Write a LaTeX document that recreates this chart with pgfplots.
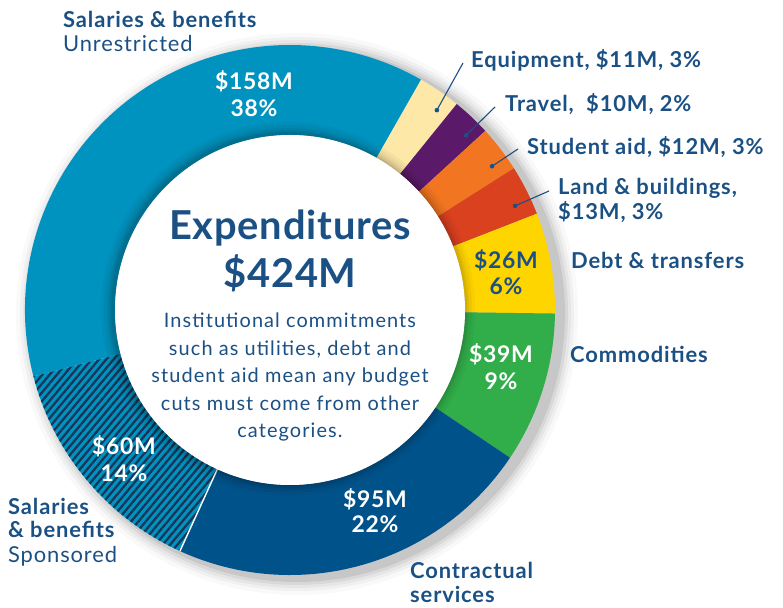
\documentclass[border=0pt]{standalone}
\usepackage{pgfplots}
\pgfplotsset{compat=1.18}
\usepackage{pgfplotstable}
\usepackage{fontspec}
\setmainfont{Lato}
\usetikzlibrary{patterns.meta}

\definecolor{txt}{HTML}{1B5084}
\definecolor{cTeal}{HTML}{0093BF}
\definecolor{cPale}{HTML}{FDE8A8}
\definecolor{cPurple}{HTML}{5B1A69}
\definecolor{cOrange}{HTML}{F27522}
\definecolor{cRed}{HTML}{D9411F}
\definecolor{cYellow}{HTML}{FFD500}
\definecolor{cGreen}{HTML}{31AD4A}
\definecolor{cNavy}{HTML}{00528A}
\definecolor{cStripe}{HTML}{14365A}

\tikzset{
  none/.style={},
  hatch/.style={postaction={pattern={Lines[angle=50,distance=5.6bp,line width=2.3bp]},pattern color=cStripe}},
}

% expenditures in $M, clockwise from the sponsored/unrestricted boundary
\pgfplotstableread{
name         value col     pat   lead
Unrestricted 158   cTeal   none  0
Equipment    11    cPale   none  1
Travel       10    cPurple none  1
Student      12    cOrange none  1
Land         13    cRed    none  1
Debt         26    cYellow none  0
Commodities  39    cGreen  none  0
Contractual  95    cNavy   none  0
Sponsored    60    cTeal   hatch 0
}\expdata

% leader line ends (label side), pixel coords
\pgfplotstableread{
x   y
463 63
495 107
518 149
549 191
}\leaders

\newcommand\lab{\fontsize{22}{26}\selectfont\bfseries\addfontfeature{LetterSpace=4}}
\newcommand\labr{\fontsize{22}{26}\selectfont\addfontfeature{LetterSpace=4}}
\newcommand\val{\fontsize{23}{27}\selectfont\bfseries\addfontfeature{LetterSpace=3}}
\newcommand\ttl{\fontsize{40}{46}\selectfont\bfseries\addfontfeature{LetterSpace=2}}
\newcommand\body{\fontsize{20}{24}\selectfont\addfontfeature{LetterSpace=5.5}}

\begin{document}
\begin{tikzpicture}
\begin{axis}[width=783bp,height=608bp,scale only axis,hide axis,
  xmin=0,xmax=783,ymin=0,ymax=608,clip=false]
\coordinate (bl) at (rel axis cs:0,0);
\coordinate (tr) at (rel axis cs:1,1);

% outer soft shadow
\foreach \k/\o in {16/0.025,12/0.035,9/0.045,6/0.06,3/0.08}{
  \edef\cmd{\noexpand\fill[black,opacity=\o] (axis cs:297,294) circle[radius=265bp+\k bp];}\cmd
}

\pgfplotstablegetrowsof{\expdata}
\pgfmathtruncatemacro\nrows{\pgfplotsretval-1}
\def\total{0}
\pgfplotsforeachungrouped \i in {0,...,\nrows}{
  \pgfplotstablegetelem{\i}{value}\of\expdata
  \pgfmathsetmacro\total{\total+\pgfplotsretval}
}
\def\angstart{194.5}
\pgfplotsforeachungrouped \i in {0,...,\nrows}{
  \pgfplotstablegetelem{\i}{value}\of\expdata \let\v\pgfplotsretval
  \pgfplotstablegetelem{\i}{col}\of\expdata \let\c\pgfplotsretval
  \pgfplotstablegetelem{\i}{pat}\of\expdata \let\p\pgfplotsretval
  \pgfplotstablegetelem{\i}{lead}\of\expdata \let\l\pgfplotsretval
  \pgfmathsetmacro\angend{\angstart-\v/\total*360}
  \edef\cmd{\noexpand\fill[\c,\p,shift={(axis cs:290,298)}]
    (\angstart:265bp) arc[start angle=\angstart,end angle=\angend,radius=265bp]
    -- (\angend:175bp) arc[start angle=\angend,end angle=\angstart,radius=175bp] -- cycle;}
  \cmd
  \expandafter\xdef\csname ang\i\endcsname{\angstart}
  \ifnum\l=1
    \pgfmathsetmacro\angmid{(\angstart+\angend)/2-2}
    \pgfmathtruncatemacro\j{\i-1}
    \pgfplotstablegetelem{\j}{x}\of\leaders \let\lx\pgfplotsretval
    \pgfplotstablegetelem{\j}{y}\of\leaders \let\ly\pgfplotsretval
    \pgfmathsetmacro\ly{608-\ly}
    \edef\cmd{\noexpand\draw[txt,line width=1.1bp]
      ([shift={(\angmid:248bp)}]axis cs:290,298) -- (axis cs:\lx,\ly);
      \noexpand\fill[txt] ([shift={(\angmid:248bp)}]axis cs:290,298) circle[radius=2.3bp];}
    \cmd
  \fi
  \let\angstart\angend
}
% white separator between contractual and sponsored
\edef\cmd{\noexpand\draw[white,line width=1.4bp,shift={(axis cs:290,298)}]
  (\csname ang8\endcsname:175bp) -- (\csname ang8\endcsname:265bp);}
\cmd

% inner shadow and white centre
\foreach \k/\o in {12/0.03,9/0.04,6/0.05,4/0.06,2/0.08}{
  \edef\cmd{\noexpand\fill[black,opacity=\o] (axis cs:288,299) circle[radius=175bp+\k bp];}\cmd
}
\fill[white] (axis cs:290,298) circle[radius=175bp];

% centre text
\node[txt,anchor=base,font=\ttl] at (axis cs:290,368) {Expenditures};
\node[txt,anchor=base,font=\ttl] at (axis cs:290,320) {\$424M};
\foreach \t/\yy in {Institutional commitments/328,such as utilities{,} debt and/355.5,student aid mean any budget/383,cuts must come from other/410.5,categories./438}{
  \pgfmathsetmacro\yb{608-\yy}
  \edef\cmd{\noexpand\node[txt,anchor=base,font=\noexpand\body] at (axis cs:290,\yb) {\t};}\cmd
}

% values on the ring
\node[white,anchor=base,font=\val] at (axis cs:254,518) {\$158M};
\node[white,anchor=base,font=\val] at (axis cs:254,491) {38\%};
\node[txt,anchor=base,font=\val] at (axis cs:506,339) {\$26M};
\node[txt,anchor=base,font=\val] at (axis cs:506,313) {6\%};
\node[white,anchor=base,font=\val] at (axis cs:501,245) {\$39M};
\node[white,anchor=base,font=\val] at (axis cs:501,218) {9\%};
\node[white,anchor=base,font=\val] at (axis cs:375,100) {\$95M};
\node[white,anchor=base,font=\val] at (axis cs:375,75) {22\%};
\node[white,anchor=base,font=\val] at (axis cs:124,153) {\$60M};
\node[white,anchor=base,font=\val] at (axis cs:124,126) {14\%};

% category labels
\node[txt,anchor=base west,font=\lab,inner sep=0] at (axis cs:63,580) {Salaries \& benefits};
\node[txt,anchor=base west,font=\labr,inner sep=0] at (axis cs:63,556) {Unrestricted};
\node[txt,anchor=base west,font=\lab,inner sep=0] at (axis cs:471,540) {Equipment, \$11M, 3\%};
\node[txt,anchor=base west,font=\lab,inner sep=0] at (axis cs:505,496) {Travel,\ \ \$10M, 2\%};
\node[txt,anchor=base west,font=\lab,inner sep=0] at (axis cs:527,453) {Student aid, \$12M, 3\%};
\node[txt,anchor=base west,font=\lab,inner sep=0] at (axis cs:558,413) {Land \& buildings,};
\node[txt,anchor=base west,font=\lab,inner sep=0] at (axis cs:558,388) {\$13M, 3\%};
\node[txt,anchor=base west,font=\lab,inner sep=0] at (axis cs:571,339) {Debt \& transfers};
\node[txt,anchor=base west,font=\lab,inner sep=0] at (axis cs:570,245) {Commodities};
\node[txt,anchor=base west,font=\lab,inner sep=0] at (axis cs:410,30) {Contractual};
\node[txt,anchor=base west,font=\lab,inner sep=0] at (axis cs:410,6) {services};
\node[txt,anchor=base west,font=\lab,inner sep=0] at (axis cs:8,93) {Salaries};
\node[txt,anchor=base west,font=\lab,inner sep=0] at (axis cs:8,70) {\& benefits};
\node[txt,anchor=base west,font=\labr,inner sep=0] at (axis cs:8,45) {Sponsored};
\end{axis}
\pgfresetboundingbox
\useasboundingbox (bl) rectangle (tr);
\end{tikzpicture}
\end{document}
